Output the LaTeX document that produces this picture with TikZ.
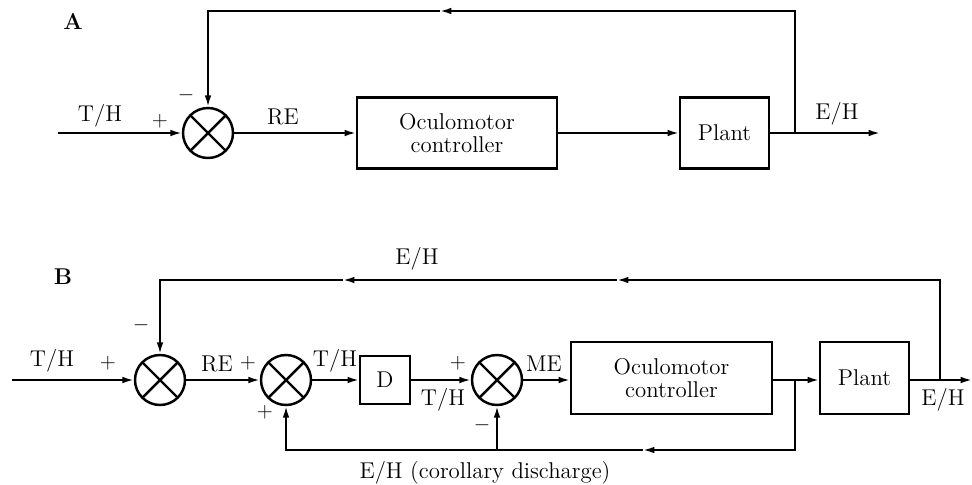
\documentclass[tikz,border=0pt]{standalone}
\usetikzlibrary{arrows.meta,positioning}

\begin{document}
\begin{tikzpicture}[x=0.02cm, y=-0.02cm, font=\fontsize{13}{15}\selectfont,
  blk/.style={rectangle, draw=black, line width=1.2pt, inner sep=2pt, align=center},
  sumj/.style={circle, draw=black, line width=1.4pt, minimum size=1cm, inner sep=0pt,
    path picture={\draw[line width=1.4pt] (path picture bounding box.north west) -- (path picture bounding box.south east)
      (path picture bounding box.north east) -- (path picture bounding box.south west);}},
  sig/.style={-{Latex[length=6.5pt,width=3.8pt]}, line width=1.1pt},
  wire/.style={line width=1.1pt}]
  \useasboundingbox (0,0) rectangle (972,484);

  % --- A ---
  \node[font=\bfseries\fontsize{13}{15}\selectfont] (labA) at (73,22) {A};
  \coordinate (inA) at (58,133);
  \node[sumj] (sumA) at (208,133) {};
  \node[blk, minimum width=4cm, minimum height=1.42cm] (ctrlA) at (457,133) {Oculomotor\\[-2pt]controller};
  \node[blk, minimum width=1.78cm, minimum height=1.42cm] (plantA) at (724.5,133) {Plant};
  \coordinate (brA) at (795,133);
  \coordinate (outA) at (880,133);
  \coordinate (fbA) at (440,11);
  \draw[sig] (inA) -- (sumA);
  \draw[sig] (sumA) -- (ctrlA);
  \draw[sig] (ctrlA) -- (plantA);
  \draw[sig] (plantA) -- (outA);
  \draw[sig] (brA) |- (fbA);
  \draw[sig] (fbA) -| (sumA.north);
  \node (thA) at (100,116) {T/H};
  \node (plA) at (160,121) {$+$};
  \node (mnA) at (186,95) {$-$};
  \node (reA) at (283,117) {RE};
  \node (ehA) at (837,114) {E/H};

  % --- B ---
  \node[font=\bfseries\fontsize{13}{15}\selectfont] (labB) at (63,277) {B};
  \coordinate (inB) at (12,380);
  \node[sumj] (sumB1) at (160,380) {};
  \node[sumj] (sumB2) at (286,380) {};
  \node[blk, minimum width=1cm, minimum height=0.96cm] (dB) at (385,380) {D};
  \node[sumj] (sumB3) at (497,380) {};
  \node[blk, minimum width=4.02cm, minimum height=1.44cm] (ctrlB) at (671.5,378) {Oculomotor\\[-2pt]controller};
  \node[blk, minimum width=1.78cm, minimum height=1.44cm] (plantB) at (864.5,378) {Plant};
  \coordinate (brB1) at (795,380);
  \coordinate (brB2) at (940,380);
  \coordinate (outB) at (972,380);
  \coordinate (fbB1) at (617,280);
  \coordinate (fbB2) at (343,280);
  \coordinate (cdB1) at (643,450);
  \coordinate (cdB2) at (497,450);
  \draw[sig] (inB) -- (sumB1);
  \draw[sig] (sumB1) -- (sumB2);
  \draw[sig] (sumB2) -- (dB);
  \draw[sig] (dB) -- (sumB3);
  \draw[sig] (sumB3) -- (ctrlB.west |- sumB3);
  \draw[sig] (ctrlB.east |- brB1) -- (plantB.west |- brB1);
  \draw[sig] (plantB.east |- brB2) -- (outB);
  % outer feedback
  \draw[sig] (brB2) |- (fbB1);
  \draw[sig] (fbB1) -- (fbB2);
  \draw[sig] (fbB2) -| (sumB1.north);
  % corollary discharge
  \draw[sig] (brB1) |- (cdB1);
  \draw[wire] (cdB1) -- (cdB2);
  \draw[sig] (cdB2) -- (sumB3.south);
  \draw[sig] (cdB2) -| (sumB2.south);
  \node (thB1) at (52,361) {T/H};
  \node (plB1) at (108,363) {$+$};
  \node (mnB1) at (141,325) {$-$};
  \node (reB) at (217,364) {RE};
  \node (plB2) at (248,363) {$+$};
  \node (plB3) at (265,412) {$+$};
  \node (thB2) at (335,361) {T/H};
  \node (thB3) at (443,400) {T/H};
  \node (plB4) at (458,363) {$+$};
  \node (mnB3) at (482,425) {$-$};
  \node (meB) at (544,364) {ME};
  \node (ehB1) at (417,259) {E/H};
  \node (ehB2) at (943,400) {E/H};
  \node (cdB) at (485,473) {E/H (corollary discharge)};
\end{tikzpicture}
\end{document}
